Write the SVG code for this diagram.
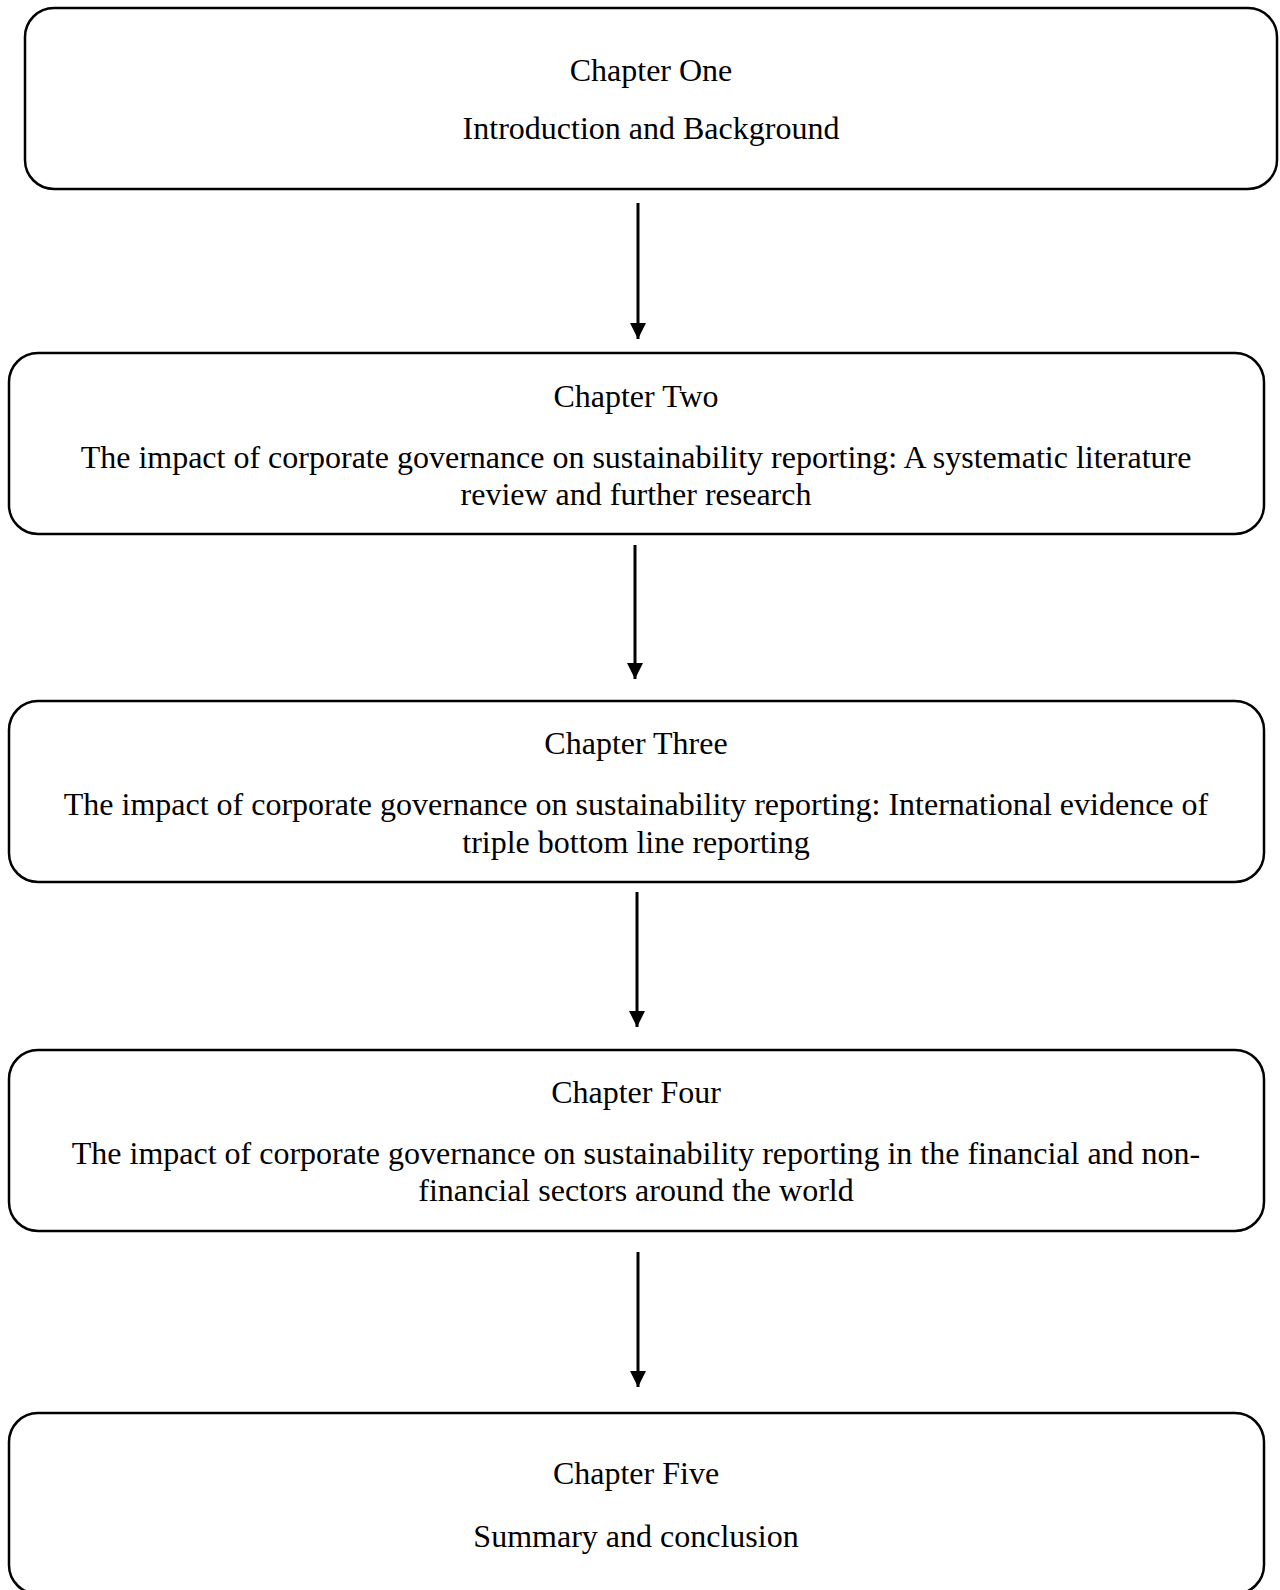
<svg xmlns="http://www.w3.org/2000/svg" width="1280" height="1590" viewBox="0 0 1280 1590">
<style>
.box{fill:#fff;stroke:#000;stroke-width:2.5}
.t{font-family:"Liberation Serif","Times New Roman",serif;font-size:32px;fill:#000;text-anchor:middle}
.c{stroke:#000;stroke-width:3;fill:none;marker-end:url(#ah)}
</style>
<defs>
<marker id="ah" markerUnits="userSpaceOnUse" markerWidth="16" markerHeight="16" refX="16" refY="8" orient="auto">
<path d="M0,0 L16,8 L0,16 Z" fill="#000"/>
</marker>
</defs>
<rect width="1280" height="1590" fill="#fff"/>
<g id="connectors">
<line class="c" x1="638" y1="203" x2="638" y2="339"/>
<line class="c" x1="635" y1="545" x2="635" y2="679"/>
<line class="c" x1="637" y1="892" x2="637" y2="1027"/>
<line class="c" x1="638" y1="1252" x2="638" y2="1387"/>
</g>
<g id="chapter1">
<rect class="box" x="25" y="8" width="1252" height="181" rx="29"/>
<text class="t" x="651" y="81">Chapter One</text>
<text class="t" x="651" y="139">Introduction and Background</text>
</g>
<g id="chapter2">
<rect class="box" x="9" y="353" width="1255" height="181" rx="29"/>
<text class="t" x="636" y="407">Chapter Two</text>
<text class="t" x="636" y="468">The impact of corporate governance on sustainability reporting: A systematic literature</text>
<text class="t" x="636" y="505">review and further research</text>
</g>
<g id="chapter3">
<rect class="box" x="9" y="701" width="1255" height="181" rx="29"/>
<text class="t" x="636" y="754">Chapter Three</text>
<text class="t" x="636" y="815">The impact of corporate governance on sustainability reporting: International evidence of</text>
<text class="t" x="636" y="853">triple bottom line reporting</text>
</g>
<g id="chapter4">
<rect class="box" x="9" y="1050" width="1255" height="181" rx="29"/>
<text class="t" x="636" y="1103">Chapter Four</text>
<text class="t" x="636" y="1164">The impact of corporate governance on sustainability reporting in the financial and non-</text>
<text class="t" x="636" y="1201">financial sectors around the world</text>
</g>
<g id="chapter5">
<rect class="box" x="9" y="1413" width="1255" height="181" rx="29"/>
<text class="t" x="636" y="1484">Chapter Five</text>
<text class="t" x="636" y="1547">Summary and conclusion</text>
</g>
</svg>
